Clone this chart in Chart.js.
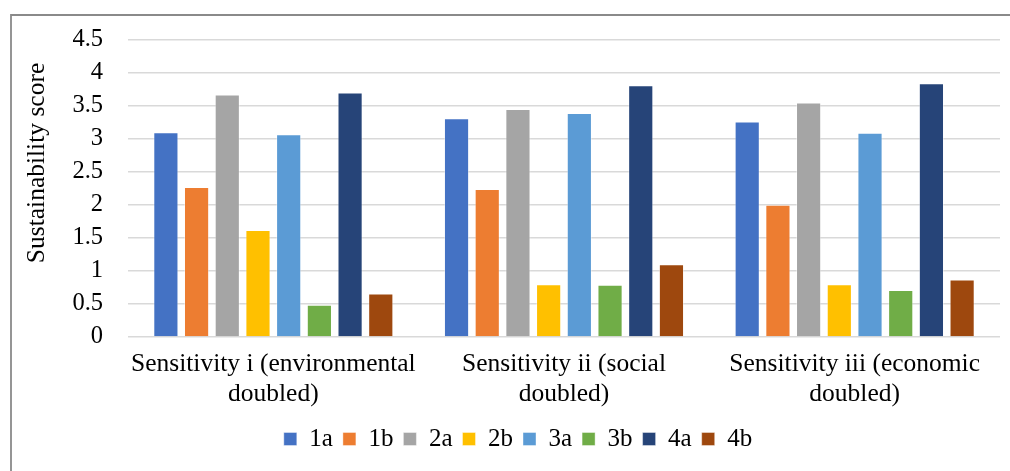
<!DOCTYPE html>
<html>
<head>
<meta charset="utf-8">
<script src="https://cdn.jsdelivr.net/npm/chart.js@4"></script>
<style>
  html, body { margin: 0; padding: 0; background: #ffffff; }
  #wrap { width: 1010px; height: 471px; position: relative; }
</style>
</head>
<body>
<div id="wrap"><canvas id="chart" width="1010" height="471"></canvas></div>
<script>
// Scenario groups along the x axis (two-line labels)
const categories = [
  ["Sensitivity i (environmental", "doubled)"],
  ["Sensitivity ii (social", "doubled)"],
  ["Sensitivity iii (economic", "doubled)"]
];

// Sustainability score per option, one value per sensitivity case
const series1a = [3.10, 3.31, 3.26];
const series1b = [2.27, 2.24, 2.00];
const series2a = [3.67, 3.45, 3.55];
const series2b = [1.62, 0.80, 0.80];
const series3a = [3.07, 3.39, 3.09];
const series3b = [0.49, 0.79, 0.71];
const series4a = [3.70, 3.81, 3.84];
const series4b = [0.66, 1.10, 0.87];

const seriesNames = ["1a", "1b", "2a", "2b", "3a", "3b", "4a", "4b"];
const seriesValues = [series1a, series1b, series2a, series2b, series3a, series3b, series4a, series4b];
const seriesColors = ["#4472C4", "#ED7D31", "#A5A5A5", "#FFC000", "#5B9BD5", "#70AD47", "#264478", "#9E480E"];

// Value axis ticks
const yTickValues = [0, 0.5, 1, 1.5, 2, 2.5, 3, 3.5, 4, 4.5];
const yAxisTitle = "Sustainability score";

const serif = "'Liberation Serif', 'Times New Roman', serif";

// White background plus the frame's top and left edges
const framePlugin = {
  id: 'frame',
  beforeDraw(chart) {
    const ctx = chart.ctx;
    ctx.save();
    ctx.fillStyle = '#ffffff';
    ctx.fillRect(0, 0, chart.width, chart.height);
    ctx.strokeStyle = '#8a8a8a';
    ctx.lineWidth = 1.8;
    ctx.beginPath();
    ctx.moveTo(11, chart.height);
    ctx.lineTo(11, 15);
    ctx.lineTo(chart.width, 15);
    ctx.stroke();
    ctx.restore();
  }
};

// Rotated value-axis title
const axisTitlePlugin = {
  id: 'axisTitle',
  afterDraw(chart) {
    const ctx = chart.ctx;
    ctx.save();
    ctx.translate(37, 163);
    ctx.rotate(-Math.PI / 2);
    ctx.font = '25.5px ' + serif;
    ctx.fillStyle = '#000000';
    ctx.textAlign = 'center';
    ctx.textBaseline = 'middle';
    ctx.fillText(yAxisTitle, 0, 0);
    ctx.restore();
  }
};

const datasets = seriesNames.map((name, i) => ({
  label: name,
  data: seriesValues[i],
  backgroundColor: seriesColors[i],
  borderColor: 'rgba(255,255,255,0.4)',
  borderWidth: 1,
  categoryPercentage: 0.845,
  barPercentage: 0.82
}));

new Chart(document.getElementById('chart'), {
  type: 'bar',
  data: { labels: categories, datasets },
  plugins: [framePlugin, axisTitlePlugin],
  options: {
    responsive: false,
    animation: false,
    devicePixelRatio: 1,
    layout: { padding: { left: 36, right: 10, top: 39, bottom: 9.5 } },
    plugins: {
      tooltip: { enabled: false },
      legend: {
        position: 'bottom',
        labels: {
          boxWidth: 13,
          boxHeight: 13,
          padding: 10,
          color: '#000000',
          font: { family: serif, size: 25 }
        }
      }
    },
    scales: {
      x: {
        grid: { display: false },
        border: { display: false },
        ticks: {
          color: '#000000',
          font: { family: serif, size: 25.5, lineHeight: 1.15 },
          maxRotation: 0,
          minRotation: 0,
          autoSkip: false,
          padding: 5
        },
        afterFit(scale) { scale.height = 79.5; }
      },
      y: {
        min: 0,
        max: 4.5,
        afterBuildTicks(scale) {
          scale.ticks = yTickValues.map(v => ({ value: v }));
        },
        grid: { color: '#d9d9d9', lineWidth: 1.5, drawTicks: false },
        border: { display: false },
        ticks: {
          color: '#000000',
          font: { family: serif, size: 24.5 },
          padding: 25,
          callback: (v) => String(v)
        },
        afterFit(scale) { scale.width = 92; }
      }
    }
  }
});
</script>
</body>
</html>
